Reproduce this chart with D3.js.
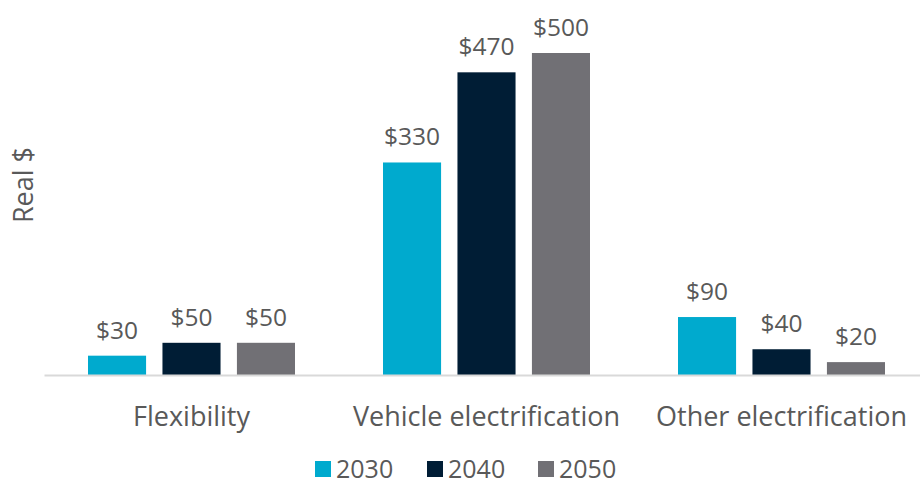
<!DOCTYPE html>
<html>
<head>
<meta charset="utf-8">
<script src="https://cdn.jsdelivr.net/npm/d3@7"></script>
<style>
  body { margin: 0; background: #fff; }
  svg text { font-family: 'Open Sans', sans-serif; fill: #595959; }
</style>
</head>
<body>
<div id="chart"></div>
<script>
const categories = ['Flexibility', 'Vehicle electrification', 'Other electrification']
const years = ['2030', '2040', '2050']
const values2030 = [30, 330, 90]
const values2040 = [50, 470, 40]
const values2050 = [50, 500, 20]
const colors = ['#00AACE', '#001D35', '#717075']

const series = [values2030, values2040, values2050]
const data = []
categories.forEach((c, i) => {
  years.forEach((yr, j) => data.push({ category: c, year: yr, value: series[j][i] }))
})

const width = 920
const height = 487
const baseline = 375

const svg = d3.select('#chart')
  .append('svg')
  .attr('width', width)
  .attr('height', height)

const x = d3.scaleBand()
  .domain(categories)
  .range([44, 929])

const xInner = d3.scaleBand()
  .domain(years)
  .range([44, 251])
  .paddingInner(0.22)

const y = d3.scaleLinear()
  .domain([0, 500])
  .range([baseline, 53])

// bars
svg.append('g')
  .selectAll('rect')
  .data(data)
  .join('rect')
  .attr('x', d => x(d.category) + xInner(d.year))
  .attr('y', d => y(d.value))
  .attr('width', xInner.bandwidth())
  .attr('height', d => baseline - y(d.value))
  .attr('fill', d => colors[years.indexOf(d.year)])

// value labels
svg.append('g')
  .selectAll('text')
  .data(data)
  .join('text')
  .attr('x', d => x(d.category) + xInner(d.year) + xInner.bandwidth() / 2)
  .attr('y', d => y(d.value) - 17)
  .attr('text-anchor', 'middle')
  .style('font-size', '24.5px')
  .text(d => '$' + d.value)

// x axis
const xAxis = svg.append('g')
  .attr('transform', `translate(0,${baseline})`)
  .call(d3.axisBottom(x).tickSize(0).tickPadding(32))
xAxis.select('.domain').attr('stroke', '#d9d9d9').attr('stroke-width', 2)
xAxis.selectAll('text')
  .style('font-size', '27px')
  .style('font-family', "'Open Sans', sans-serif")
  .attr('fill', '#595959')

// y title
svg.append('text')
  .attr('transform', 'translate(33,185) rotate(-90)')
  .attr('text-anchor', 'middle')
  .style('font-size', '27px')
  .text('Real $')

// legend
const legendX = [315, 427, 538]
const legend = svg.append('g')
  .selectAll('g')
  .data(years)
  .join('g')
  .attr('transform', (d, i) => `translate(${legendX[i]},461)`)
legend.append('rect')
  .attr('width', 16)
  .attr('height', 16)
  .attr('fill', (d, i) => colors[i])
legend.append('text')
  .attr('x', 21)
  .attr('y', 17)
  .style('font-size', '25px')
  .text(d => d)
</script>
</body>
</html>
